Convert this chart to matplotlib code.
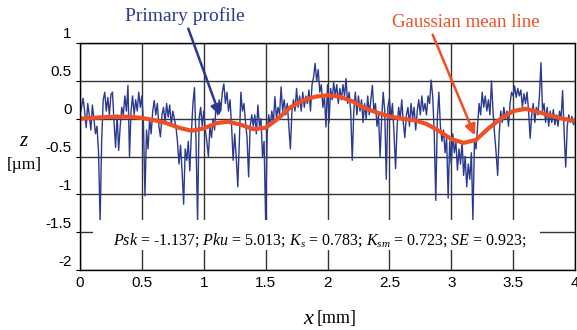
import numpy as np
import matplotlib.pyplot as plt
import matplotlib.transforms as mtransforms
from matplotlib.patches import Rectangle

plt.rcParams['mathtext.fontset'] = 'custom'
plt.rcParams['mathtext.rm'] = 'Liberation Serif'
plt.rcParams['mathtext.it'] = 'Liberation Serif:italic'

# primary profile, sampled every 0.0125 mm (one row = 0.2 mm)
step = 0.0125
z_profile = [
    0.05, 0.15, 0.27, 0.10, -0.12, 0.20, 0.05, -0.15, 0.18, 0.00, -0.20, -0.10, -0.45, -1.35, -0.30, 0.25,
    0.35, 0.10, 0.28, 0.05, 0.32, 0.35, -0.05, -0.38, 0.05, -0.42, -0.10, 0.15, 0.05, 0.30, 0.10, 0.44,
    -0.50, 0.10, 0.30, 0.05, 0.25, 0.10, 0.35, 0.15, 0.30, -0.05, -1.02, -0.15, -0.40, 0.00, -0.20, 0.10,
    0.24, 0.05, 0.20, -0.10, -0.24, 0.05, 0.15, -0.05, 0.20, 0.02, 0.18, -0.08, 0.10, 0.00, -0.10, -0.30,
    -0.60, -0.35, -0.70, -1.13, -0.40, -0.55, -0.30, -0.69, -0.20, 0.20, 0.41, -0.30, -1.35, 0.00, 0.15, -0.10,
    0.10, -0.15, -0.30, -0.50, -0.10, -0.25, 0.00, -0.15, 0.20, 0.05, 0.25, 0.10, 0.35, 0.46, 0.20, 0.35,
    0.10, 0.25, -0.10, -0.55, -0.20, -0.50, -0.90, -0.30, 0.35, 0.10, 0.20, -0.05, -0.25, -0.77, -0.10, 0.05,
    -0.10, 0.05, -0.20, 0.18, -0.10, 0.00, -0.50, -0.30, -1.35, -0.20, 0.05, -0.10, 0.10, -0.05, 0.29, 0.00,
    0.15, 0.05, 0.42, 0.10, 0.25, 0.05, 0.20, -0.10, -0.40, 0.10, 0.25, 0.10, 0.40, 0.15, 0.30, 0.10,
    0.35, 0.15, 0.30, 0.20, 0.38, 0.10, 0.45, 0.55, 0.73, 0.50, 0.65, 0.35, 0.45, 0.15, 0.30, -0.11,
    0.45, -0.05, 0.40, 0.25, 0.48, 0.30, 0.45, 0.20, 0.40, 0.25, 0.45, 0.30, 0.53, 0.20, 0.35, 0.10,
    -0.55, 0.10, 0.35, 0.05, 0.30, 0.10, 0.25, -0.05, 0.20, 0.00, 0.30, 0.05, 0.25, 0.44, 0.10, 0.20,
    -0.10, 0.05, -0.50, 0.00, 0.35, 0.10, -0.80, 0.15, 0.27, 0.00, 0.20, -0.20, -0.66, -0.10, 0.15, 0.00,
    0.25, -0.05, -0.25, 0.05, 0.15, -0.10, 0.20, 0.00, 0.15, -0.15, 0.10, 0.25, 0.05, 0.30, 0.10, 0.20,
    0.05, 0.30, 0.20, 0.51, 0.30, -0.20, -1.08, 0.00, 0.35, -0.10, -0.30, -0.15, -0.45, -0.25, -1.05, -0.30,
    -0.60, -0.20, -0.45, -0.30, -0.68, -0.40, -0.60, -0.30, -0.75, -0.50, -0.90, -0.60, -0.80, -0.45, -1.34, -0.30,
    -0.40, -0.10, 0.20, 0.05, 0.35, 0.15, 0.30, 0.10, 0.25, 0.05, 0.50, 0.10, -0.20, -0.45, -0.75, -0.20,
    0.10, -0.05, 0.15, 0.00, 0.10, -0.10, 0.20, 0.35, 0.30, 0.43, 0.28, 0.40, 0.30, 0.38, 0.15, 0.33,
    0.20, 0.35, 0.10, -0.26, 0.05, 0.20, -0.05, 0.15, 0.05, 0.30, 0.74, 0.10, 0.20, -0.05, 0.15, -0.10,
    0.10, -0.05, 0.12, -0.08, 0.05, -0.10, 0.10, 0.00, 0.37, -0.20, -0.64, -0.10, 0.05, -0.05, 0.03, -0.08,
    0.00,
]
x_profile = np.arange(len(z_profile)) * step

# gaussian mean line, every 0.1 mm
x_mean = np.arange(41) * 0.1
z_mean = [0.00, 0.01, 0.02, 0.025, 0.025, 0.01, -0.02, -0.06, -0.12, -0.16,
          -0.13, -0.06, -0.04, -0.08, -0.14, -0.12, 0.00, 0.15, 0.24, 0.29,
          0.31, 0.29, 0.23, 0.14, 0.08, 0.03, 0.00, -0.02, -0.07, -0.16,
          -0.27, -0.32, -0.28, -0.13, 0.00, 0.10, 0.13, 0.09, 0.04, 0.00,
          -0.03]

xticks = [0, 0.5, 1, 1.5, 2, 2.5, 3, 3.5, 4]
yticks = [1, 0.5, 0, -0.5, -1, -1.5, -2]

blue = '#2B3990'
red = '#F04E23'

fig = plt.figure(figsize=(5.77, 3.30), dpi=100)
ax = fig.add_axes([80/577, 1 - 270/330, 495/577, 227/330])

ax.plot(x_profile, z_profile, color=blue, lw=1.0, zorder=2)
ax.plot(x_mean, z_mean, color=red, lw=3.0, zorder=2.2)

ax.set_xlim(0, 4)
ax.set_ylim(-2, 1)
ax.set_xticks(xticks)
ax.set_xticklabels([f'{t:g}' for t in xticks])
ax.set_yticks(yticks)
ax.set_yticklabels([f'{t:g}' for t in yticks])
ax.grid(True, color='#333333', lw=1)
ax.set_axisbelow(True)
ax.tick_params(axis='x', length=0, pad=4, labelsize=11)
ax.tick_params(axis='y', length=3, direction='out', pad=3, labelsize=11)
for lab in ax.get_xticklabels() + ax.get_yticklabels():
    lab.set_fontfamily('Liberation Sans')
# y labels sit a little above their grid lines in the original
shift = mtransforms.ScaledTranslation(0, 0.10, fig.dpi_scale_trans)
for lab in ax.get_yticklabels():
    lab.set_transform(lab.get_transform() + shift)
for sp in ax.spines.values():
    sp.set_color('black')
    sp.set_linewidth(1)

# white box with the statistics
ax.add_patch(Rectangle((0.105, -1.74), 3.61, 0.40, facecolor='white',
                       edgecolor='none', zorder=3))
ax.text(1.94, -1.6,
        r'$Psk$ = -1.137; $Pku$ = 5.013; $K_s$ = 0.783; $K_{sm}$ = 0.723; $SE$ = 0.923;',
        ha='center', va='center', fontsize=11.5, family='Liberation Serif', zorder=4)

# labels and arrows
ax.text(0.85, 1.355, 'Primary profile', ha='center', va='center', color=blue,
        fontsize=14, family='Liberation Serif', clip_on=False)
ax.annotate('', xy=(1.131, 0.04), xytext=(0.875, 1.19), annotation_clip=False,
            arrowprops=dict(arrowstyle='-|>', color=blue, lw=1.8, mutation_scale=16,
                            shrinkA=0, shrinkB=0))
ax.text(3.12, 1.276, 'Gaussian mean line', ha='center', va='center', color=red,
        fontsize=13.5, family='Liberation Serif', clip_on=False)
ax.annotate('', xy=(3.19, -0.22), xytext=(2.85, 1.11), annotation_clip=False,
            arrowprops=dict(arrowstyle='-|>', color=red, lw=1.8, mutation_scale=16,
                            shrinkA=0, shrinkB=0))

fig.text(23/577, 1 - 141/330, 'z', fontsize=15, family='Liberation Serif',
         style='italic', ha='center', va='center')
fig.text(24/577, 1 - 165/330, '[µm]', fontsize=12.5, family='Liberation Serif',
         ha='center', va='center')
fig.text(313/577, 1 - 319/330, 'x', fontsize=16, family='Liberation Serif',
         style='italic', ha='right', va='center')
fig.text(317/577, 1 - 319/330, '[mm]', fontsize=13, family='Liberation Serif',
         ha='left', va='center')

fig.savefig('out.png', dpi=100)
